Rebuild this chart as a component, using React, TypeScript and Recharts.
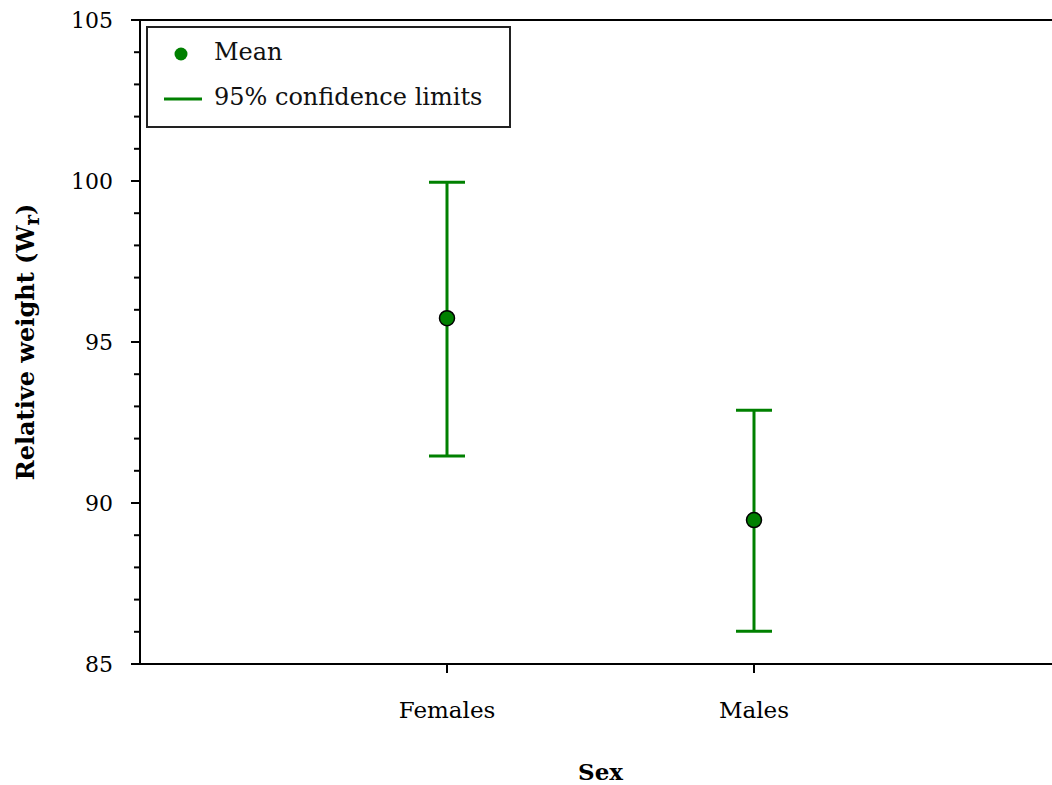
import { ScatterChart, Scatter, XAxis, YAxis, ErrorBar, ReferenceLine, Legend } from "recharts";

const sexes = ["Females", "Males"];
const means = [95.74, 89.47];
const lowerLimits = [91.46, 86.02];
const upperLimits = [99.96, 92.88];
const majorTicks = [85, 90, 95, 100, 105];
const allTicks = [85, 86, 87, 88, 89, 90, 91, 92, 93, 94, 95, 96, 97, 98, 99, 100, 101, 102, 103, 104, 105];

const GREEN = "#008000";
const FONT = "'DejaVu Serif', serif";

const data = sexes.map((sex, i) => ({
  pos: i + 1,
  sex,
  mean: means[i],
  ci: [means[i] - lowerLimits[i], upperLimits[i] - means[i]],
}));

function YTick(props: any) {
  const { x, y, payload } = props;
  const major = majorTicks.includes(payload.value);
  const axisX = x + 9 + 18;
  return (
    <g>
      <line x1={axisX - (major ? 9 : 6)} x2={axisX} y1={y} y2={y} stroke="#000" strokeWidth={2} />
      {major && (
        <text x={x} y={y} dy={8} textAnchor="end" fontSize={22} fontFamily={FONT} fill="#000">
          {payload.value}
        </text>
      )}
    </g>
  );
}

function MeanDot(props: any) {
  const { cx, cy } = props;
  return <circle cx={cx} cy={cy} r={7.5} fill={GREEN} stroke="#000" strokeWidth={1.5} />;
}

function YLabel(props: any) {
  const { viewBox } = props;
  const cy = viewBox.y + viewBox.height / 2;
  return (
    <text
      x={25}
      y={cy}
      transform={`rotate(-90, 25, ${cy})`}
      textAnchor="middle"
      dominantBaseline="central"
      fontSize={24}
      fontWeight="bold"
      fontFamily={FONT}
      fill="#000"
    >
      Relative weight (W<tspan fontSize={20} dy={7}>r</tspan>
      <tspan dy={-7}>)</tspan>
    </text>
  );
}

function LegendBox() {
  return (
    <div
      style={{
        width: 365,
        height: 102,
        boxSizing: "border-box",
        border: "2px solid #222",
        background: "#fff",
        fontFamily: FONT,
        fontSize: 24,
        color: "#111",
        position: "relative",
      }}
    >
      <svg width={60} height={100} style={{ position: "absolute", left: 0, top: 0 }}>
        <circle cx={33} cy={26} r={6.5} fill={GREEN} />
        <line x1={16} x2={54} y1={71} y2={71} stroke={GREEN} strokeWidth={3} />
      </svg>
      <div style={{ position: "absolute", left: 66, top: 9, lineHeight: "30px" }}>Mean</div>
      <div style={{ position: "absolute", left: 66, top: 54, lineHeight: "30px" }}>95% confidence limits</div>
    </div>
  );
}

export default function App() {
  return (
    <div style={{ position: "absolute", left: 0, top: 0, width: 1052, height: 785, overflow: "hidden", background: "#fff" }}>
      <ScatterChart width={1062} height={785} margin={{ top: 20, right: 1, bottom: 61, left: 0 }}>
        <XAxis
          type="number"
          dataKey="pos"
          domain={[0, 3]}
          ticks={[1, 2]}
          tickFormatter={(v: number) => sexes[v - 1]}
          height={60}
          axisLine={{ stroke: "#000", strokeWidth: 2 }}
          tickLine={{ stroke: "#000", strokeWidth: 2 }}
          tickSize={9}
          tickMargin={29}
          tick={{ fill: "#000", fontSize: 23, fontFamily: FONT }}
          label={{ value: "Sex", position: "bottom", offset: 40, fill: "#000", fontSize: 23, fontWeight: "bold", fontFamily: FONT }}
        />
        <YAxis
          type="number"
          dataKey="mean"
          domain={[85, 105]}
          ticks={allTicks}
          interval={0}
          width={140}
          axisLine={{ stroke: "#000", strokeWidth: 2 }}
          tickLine={false}
          tickSize={9}
          tickMargin={18}
          tick={<YTick />}
          label={<YLabel />}
        />
        <ReferenceLine y={105} stroke="#000" strokeWidth={2} />
        <Legend
          content={<LegendBox />}
          layout="vertical"
          align="center"
          verticalAlign="middle"
          wrapperStyle={{ position: "absolute", left: 146, top: 26, width: 365 }}
        />
        <Scatter data={data} fill={GREEN} shape={<MeanDot />} isAnimationActive={false}>
          <ErrorBar dataKey="ci" direction="y" width={18} stroke={GREEN} strokeWidth={3} isAnimationActive={false} />
        </Scatter>
      </ScatterChart>
    </div>
  );
}
